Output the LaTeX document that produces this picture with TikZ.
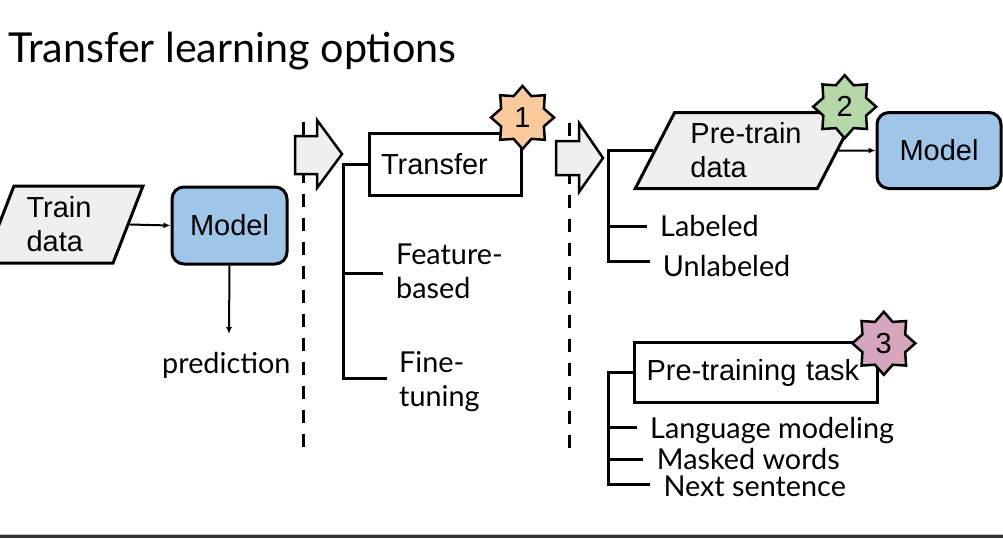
\documentclass[tikz,border=0pt]{standalone}
\usepackage{fontspec}
\setmainfont{Lato}
\newfontfamily\boxfont{Liberation Sans}
\usetikzlibrary{shapes.geometric,arrows.meta}

\definecolor{modelblue}{HTML}{9FC5E8}
\definecolor{datagray}{HTML}{EFEFEF}
\definecolor{badgeorange}{HTML}{F9CB9C}
\definecolor{badgegreen}{HTML}{B6D7A8}
\definecolor{badgepink}{HTML}{D5A6BD}
\definecolor{barcolor}{HTML}{333333}

\tikzset{
  boxtext/.style={font=\boxfont\fontsize{29}{34}\selectfont},
  plainbox/.style={draw, line width=3pt, fill=white, boxtext, inner sep=0pt,
    align=left},
  modelbox/.style={draw, line width=3pt, fill=modelblue, rounded corners=12pt,
    boxtext, inner sep=0pt},
  databox/.style={trapezium, trapezium stretches=true, draw, line width=3pt,
    fill=datagray, boxtext, align=left, inner sep=0pt},
  badge/.style={star, star points=8, star point ratio=1.36, draw,
    line width=2.5pt, inner sep=0pt, minimum size=63pt,
    font=\boxfont\fontsize{29}{30}\selectfont},
  leaf/.style={inner sep=0pt, font=\fontsize{28.8}{34}\selectfont, align=left},
  tree/.style={line width=3pt},
  flow/.style={line width=2pt, -{Latex[length=7pt,width=6pt]}},
  divider/.style={line width=3pt, dash pattern=on 13pt off 11pt},
  blockarrow/.style={draw, line width=2.5pt, fill=datagray, line join=miter},
}

\begin{document}
\begin{tikzpicture}[x=1pt,y=-1pt]
\useasboundingbox (0,0) rectangle (1003,538);
\fill[white] (0,0) rectangle (1003,538);

% title
\node[anchor=base west, inner sep=0pt, font=\fontsize{41.3}{50}\selectfont]
  (title) at (8,62) {Transfer learning options};

% dashed dividers between the stages
\draw[divider] (303,122) -- (303,452);
\draw[divider] (569,123) -- (569,455);

% block arrows on the dividers
\draw[blockarrow] (295,136) -- (317,136) -- (317,120) -- (342,154)
  -- (317,188) -- (317,174) -- (295,174) -- cycle;
\draw[blockarrow] (556,141) -- (579,141) -- (579,123) -- (603,158)
  -- (579,192) -- (579,175) -- (556,175) -- cycle;

% stage 1: plain training
\node[databox, trapezium left angle=68, trapezium right angle=112,
  minimum width=159pt, minimum height=77pt]
  (train) at (63.5,224.5) {Train\hspace*{9pt}\\data};
\node[modelbox, minimum width=115pt, minimum height=77pt]
  (model1) at (229.5,225.5) {Model};
\draw[flow] (train.east) -- (model1.west);
\coordinate (predend) at (229,334);
\draw[flow] (model1.south) -- (predend);
\node[leaf, anchor=base west] (pred) at (162,373) {prediction};

% stage 2: transfer
\node[plainbox, minimum width=152pt, minimum height=62pt, text width=128pt,
  inner xsep=12pt] (transfer) at (445,164) {Transfer};
\node[badge, fill=badgeorange] (b1) at (522.5,117.5) {1};
\node[leaf, anchor=west] (feat) at (396,271.7) {Feature-\\based};
\node[leaf, anchor=west] (fine) at (399,381.2) {Fine-\\tuning};
\coordinate (spine1) at (343,378);
\coordinate (featend) at (383,273);
\coordinate (fineend) at (387,378);
\draw[tree] (transfer.west) -| (spine1) -- (fineend);
\draw[tree] (featend -| spine1) -- (featend);

% stage 3: pre-training
\node[databox, trapezium left angle=61, trapezium right angle=119,
  minimum width=222pt, minimum height=76pt]
  (pretrain) at (746,150.5) {Pre-train\\data};
\node[modelbox, minimum width=124pt, minimum height=76pt]
  (model2) at (939,150.5) {Model};
\draw[flow] (pretrain.east) -- (model2.west);
\node[badge, fill=badgegreen] (b2) at (844.7,106.7) {2};

\node[leaf, anchor=base west] (labeled) at (660,236.7) {Labeled};
\node[leaf, anchor=base west] (unlabeled) at (662.7,276.7) {Unlabeled};
\coordinate (spine2) at (608,261);
\coordinate (labend) at (647,226);
\coordinate (unlabend) at (650,261);
\draw[tree] (pretrain.west) -| (spine2) -- (unlabend);
\draw[tree] (labend -| spine2) -- (labend);

% pre-training task
\node[plainbox, minimum width=243pt, minimum height=60pt, text width=218pt,
  inner xsep=12.5pt] (task) at (755.5,372.5) {Pre-training task};
\node[badge, fill=badgepink] (b3) at (883.8,343.3) {3};

\node[leaf, anchor=base west] (lm) at (650,438.3) {Language modeling};
\node[leaf, anchor=base west] (mw) at (656.7,469.3) {Masked words};
\node[leaf, anchor=base west] (ns) at (663.3,496) {Next sentence};
\coordinate (spine3) at (608,484);
\coordinate (lmend) at (637,427);
\coordinate (mwend) at (643,459);
\coordinate (nsend) at (650,484);
\draw[tree] (task.west) -| (spine3) -- (nsend);
\draw[tree] (lmend -| spine3) -- (lmend);
\draw[tree] (mwend -| spine3) -- (mwend);

% footer bar
\fill[black!25] (0,533.5) rectangle (1003,535);
\fill[barcolor] (0,535) rectangle (1003,538);
\end{tikzpicture}
\end{document}
